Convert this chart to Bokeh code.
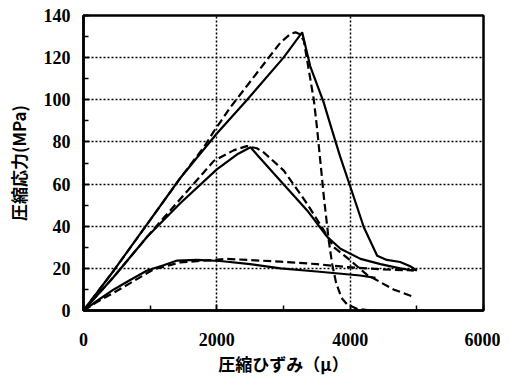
from bokeh.plotting import figure
from bokeh.models import Range1d, SingleIntervalTicker
from bokeh.embed import file_html
from bokeh.resources import INLINE

# large specimen, solid
a_x = [0, 455, 955, 1455, 2000, 2455, 3000, 3280, 3400, 3600, 3705, 3850, 4005, 4205, 4405, 4550, 4750, 4900, 5000, 4950]
a_y = [0, 19, 41, 63, 84, 100, 120, 132, 116, 99, 88, 73, 58.5, 39.5, 26, 24, 23, 21, 19, 19.5]
# large specimen, dashed
b_x = [0, 455, 955, 1455, 1805, 1955, 2205, 2705, 2950, 3105, 3180, 3250, 3305, 3455, 3505, 3605, 3680, 3730, 3790, 3870, 3950, 4100, 4300]
b_y = [0, 19, 41, 63, 77.5, 85, 96.5, 117, 127, 131.3, 132, 131, 128, 100, 86, 54, 33, 22, 13, 6, 3, 0.8, 0]
# medium, solid
c_x = [0, 455, 955, 1455, 2000, 2300, 2505, 2600, 2855, 3355, 3655, 3855, 4155, 4455, 4750, 4950]
c_y = [0, 16, 35, 51, 67, 74, 77.5, 74, 65, 47.5, 35, 29.3, 24.5, 22, 20, 19]
# medium, dashed
d_x = [0, 455, 955, 1455, 1955, 2250, 2450, 2600, 2705, 3005, 3355, 3605, 3755, 4005, 4250, 4650, 4950]
d_y = [0, 16, 35, 53, 71, 76, 78, 77, 75, 66.4, 50.6, 38, 30, 23.7, 17, 10, 6.5]
# low, solid
e_x = [0, 200, 455, 700, 955, 1200, 1405, 1700, 2050, 2500, 2955, 3500, 4150, 4380]
e_y = [0, 4.5, 10, 14.5, 19, 21.5, 23.7, 24, 23.5, 22, 20, 18.5, 16.6, 15.5]
# low, dashed
f_x = [0, 200, 455, 700, 1050, 1450, 2150, 2955, 3500, 3950, 4500, 4955]
f_y = [0, 4, 8.5, 13, 19.5, 22.8, 24.5, 23.2, 22, 20.6, 19.5, 19]

p = figure(width=500, height=372, output_backend="svg", toolbar_location=None,
           x_range=Range1d(0, 6000), y_range=Range1d(0, 140),
           min_border_left=83, min_border_right=17, min_border_top=15, min_border_bottom=62)
p.frame_width = 400
p.frame_height = 295
p.outline_line_color = "black"
p.outline_line_width = 2.5
p.outline_line_alpha = 1
p.background_fill_color = "white"
p.border_fill_color = "white"

p.xaxis.ticker = SingleIntervalTicker(interval=2000, num_minor_ticks=2)
p.yaxis.ticker = SingleIntervalTicker(interval=20, num_minor_ticks=2)

for ax in (p.xaxis[0], p.yaxis[0]):
    ax.axis_line_color = "black"
    ax.axis_line_width = 2.5
    ax.major_tick_in = 6
    ax.major_tick_out = 0
    ax.minor_tick_in = 5
    ax.minor_tick_out = 0
    ax.major_tick_line_color = "black"
    ax.minor_tick_line_color = "black"
    ax.major_tick_line_width = 1.5
    ax.minor_tick_line_width = 1.5
    ax.major_label_text_font = "Liberation Serif"
    ax.major_label_text_font_style = "bold"
    ax.major_label_text_font_size = "18px"
    ax.major_label_text_color = "black"
    ax.axis_label_text_font = "Noto Sans CJK JP"
    ax.axis_label_text_font_style = "bold"
    ax.axis_label_text_font_size = "17px"
    ax.axis_label_text_color = "black"

p.xaxis.axis_label = "圧縮ひずみ（μ）"
p.yaxis.axis_label = "圧縮応力(MPa)"
p.xaxis.major_label_standoff = 22
p.xaxis.axis_label_standoff = 2
p.yaxis.major_label_standoff = 13
p.yaxis.axis_label_standoff = 10

for g in (p.xgrid[0], p.ygrid[0]):
    g.grid_line_color = "black"
    g.grid_line_dash = "2 2"
    g.grid_line_width = 1.5

lw = 2.2
p.line(a_x, a_y, line_color="black", line_width=lw)
p.line(b_x, b_y, line_color="black", line_width=lw, line_dash="8 4")
p.line(c_x, c_y, line_color="black", line_width=lw)
p.line(d_x, d_y, line_color="black", line_width=lw, line_dash="8 4")
p.line(e_x, e_y, line_color="black", line_width=lw)
p.line(f_x, f_y, line_color="black", line_width=lw, line_dash="8 4")

open("out.html", "w").write(file_html(p, INLINE))
